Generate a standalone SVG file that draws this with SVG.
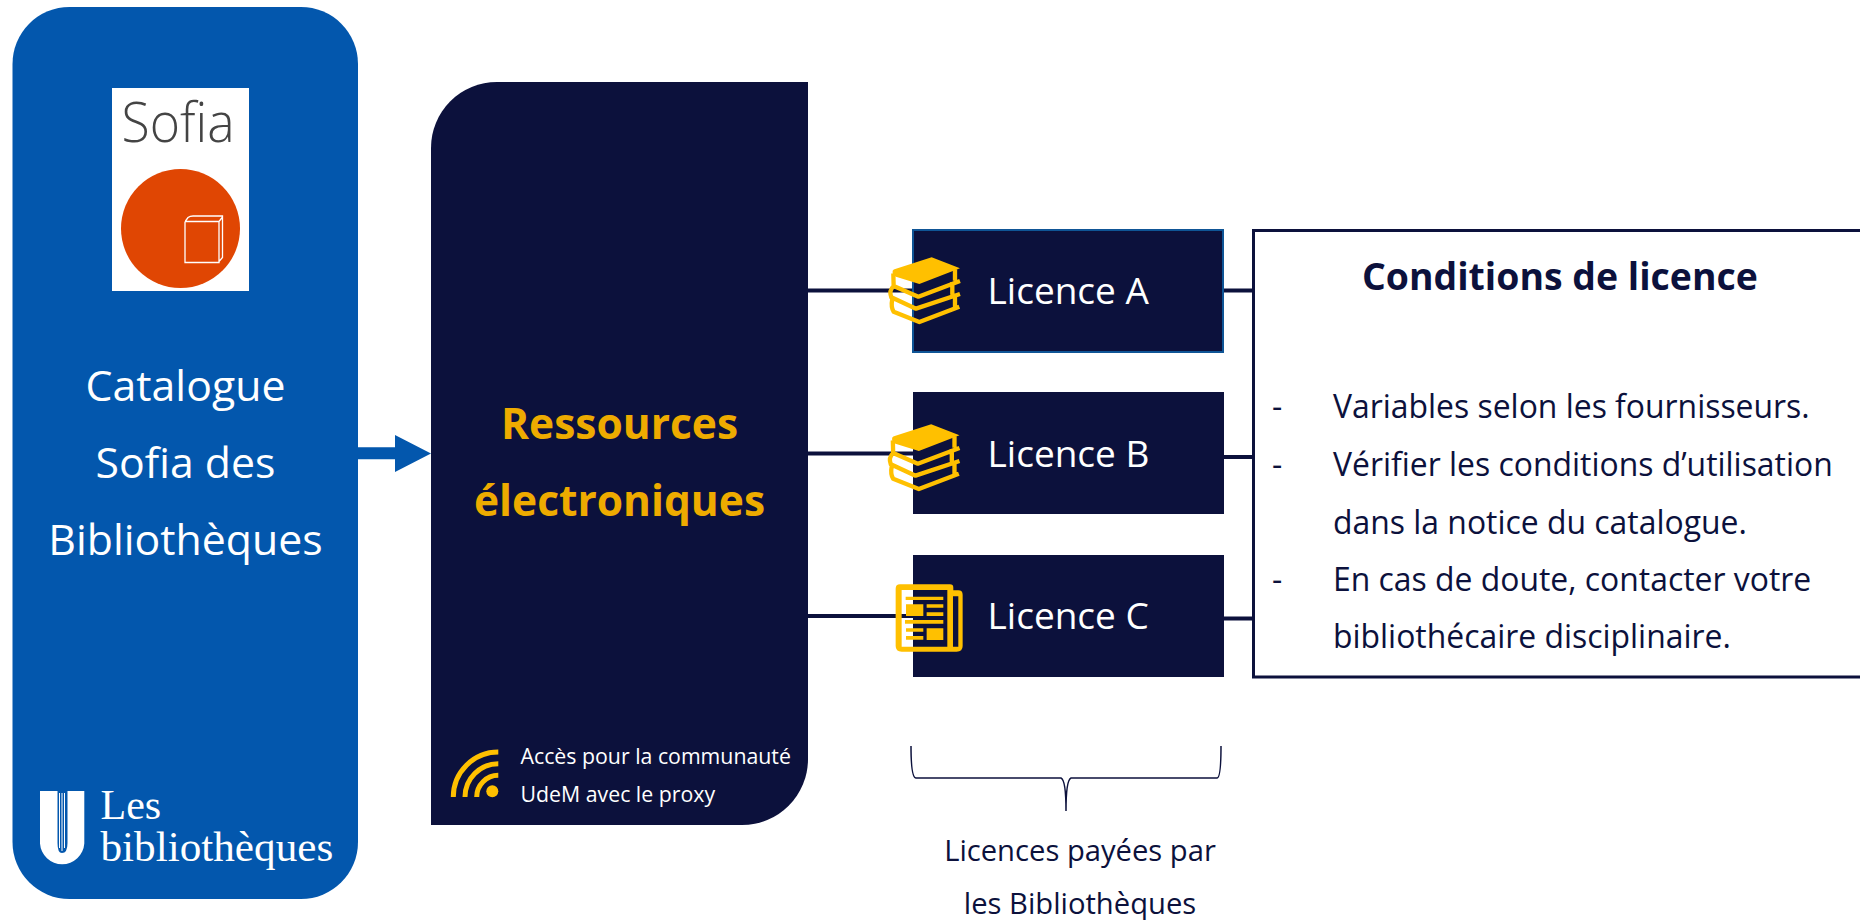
<svg xmlns="http://www.w3.org/2000/svg" width="1860" height="920" viewBox="0 0 1860 920">
<style>
text{font-family:"Open Sans","Noto Sans","Liberation Sans",sans-serif}
.w{fill:#fff}.d{fill:#0c113c}.y{fill:#eeab00;font-weight:700;font-size:42.500px;text-anchor:middle}
.ln{stroke:#0c113c;stroke-width:4;fill:none}
.ic{fill:none;stroke:#ffc000;stroke-width:13;stroke-linejoin:round}
.icf{fill:#ffc000}
.lic{fill:#fff;font-size:37px}
.cat{fill:#fff;font-size:42.800px;text-anchor:middle}
.body{fill:#0c113c;font-size:31.900px}
.ser{font-family:"Liberation Serif",serif;fill:#fff}
</style>
<defs>
<g id="books" transform="scale(.3333)">
<path class="icf" d="M425 112L510 145L388 192L318 170Q306 165 308 152Q310 148 318 146Z"/>
<path class="ic" d="M310 160L311 198L385 230L510 183M495 148V182M311 198Q296 212 304 232L378 266L510 222M487 186V224M307 236Q302 262 311 275L388 306L508 260M495 224V262"/>
</g>
</defs>
<g id="connectors">
<path class="ln" d="M808 290.500H915M808 453.500H915M808 616H915M1224 290.500H1254M1224 457H1254M1224 618.500H1254"/>
<path fill="#0357ad" d="M358 447.300H395V435L431 453.500L395 472V459.300H358Z"/>
<path fill="none" stroke="#0c113c" stroke-width="1.500" d="M911 746Q911 778 916 778H1061Q1066 780 1066 811Q1066 780 1071 778H1217Q1221 778 1221 746"/>
</g>
<g id="catalogue">
<rect x="12.500" y="7" width="345.500" height="892" rx="57" fill="#0357ad"/>
<rect x="112" y="88" width="137" height="203" fill="#fff"/>
<text x="121.500" y="142" font-size="55" font-weight="300" fill="#444" textLength="113" lengthAdjust="spacingAndGlyphs">Sofia</text>
<circle cx="180.500" cy="228.500" r="59.500" fill="#e04603"/>
<path fill="none" stroke="#fff" stroke-width="1.300" d="M185 221.500V262.500H219V221.500H185M185.500 221L188 217.500Q190 216 193 216H222.500V257.500L219 261.500M219 221.500L222.500 217"/>
<text class="cat" x="185.500" y="401">Catalogue</text>
<text class="cat" x="185.500" y="478">Sofia des</text>
<text class="cat" x="185.500" y="554.500">Bibliothèques</text>
<path class="w" d="M40 791H57.500V843Q57.500 853 62 853Q67.500 853 67.500 843V791H84.300V843.500A22.200 22.200 0 0 1 40 843.500Z"/>
<path stroke="#fff" stroke-width="1" d="M59.500 793V848M62 793V851M64.500 793V848"/>
<text class="ser" x="100.500" y="819" font-size="42">Les</text>
<text class="ser" x="100.500" y="861" font-size="43.200">bibliothèques</text>
</g>
<g id="ressources">
<path class="d" d="M497 82H808V759A66 66 0 0 1 742 825H431V148A66 66 0 0 1 497 82Z"/>
<text class="y" x="619.500" y="439">Ressources</text>
<text class="y" x="619.500" y="516">électroniques</text>
<path fill="none" stroke="#ffc000" stroke-width="5" d="M453.300 797A45 45 0 0 1 498.300 752M465 797A33.300 33.300 0 0 1 498.300 763.700M476.700 797A21.700 21.700 0 0 1 498.300 775.300"/>
<circle cx="492.300" cy="791.300" r="6" fill="#ffc000"/>
<text x="520.500" y="763.500" font-size="21.300" fill="#fff">Accès pour la communauté</text>
<text x="520.500" y="801.500" font-size="21.300" fill="#fff">UdeM avec le proxy</text>
</g>
<g id="licence-a">
<rect x="913" y="230" width="310" height="122" class="d" stroke="#0f5596" stroke-width="2"/>
<text class="lic" x="987.500" y="304">Licence A</text>
<use href="#books" transform="translate(790 220)"/>
</g>
<g id="licence-b">
<rect x="913" y="392" width="311" height="122" class="d"/>
<text class="lic" x="987.500" y="467">Licence B</text>
<use href="#books" transform="translate(789.500 387)"/>
</g>
<g id="licence-c">
<rect x="913" y="555" width="311" height="122" class="d"/>
<text class="lic" x="987.500" y="629">Licence C</text>
<g transform="translate(790 540) scale(.3333)">
<path class="icf" fill-rule="evenodd" d="M330 133H480Q490 133 490 143V151H505Q518 151 518 164V318Q518 335 500 335H335Q317 335 317 318V146Q317 133 330 133ZM335 150V320H472V150ZM489 169V320H505V169Z"/>
<path class="icf" d="M347 170H460V180H347ZM348 193H400V228H348ZM410 193H460V203H410ZM410 217H460V228H410ZM345 240H460V251H345ZM348 265H400V275H348ZM348 288H400V299H348ZM410 265H460V300H410Z"/>
</g>
</g>
<g id="conditions">
<path fill="#fff" stroke="#0c113c" stroke-width="3" d="M1870 230.500H1253.500V677H1870"/>
<text x="1362" y="289.500" font-size="37.400" font-weight="700" fill="#0c113c">Conditions de licence</text>
<text class="body" x="1272" y="417.500">-</text>
<text class="body" x="1333" y="417.500">Variables selon les fournisseurs.</text>
<text class="body" x="1272" y="475.500">-</text>
<text class="body" x="1333" y="475.500">Vérifier les conditions d’utilisation</text>
<text class="body" x="1333" y="533.500">dans la notice du catalogue.</text>
<text class="body" x="1272" y="590.500">-</text>
<text class="body" x="1333" y="590.500">En cas de doute, contacter votre</text>
<text class="body" x="1333" y="648">bibliothécaire disciplinaire.</text>
</g>
<g id="licences-payees" fill="#0c113c" font-size="29.200" text-anchor="middle">
<text x="1080" y="861">Licences payées par</text>
<text x="1080" y="914">les Bibliothèques</text>
</g>
</svg>
